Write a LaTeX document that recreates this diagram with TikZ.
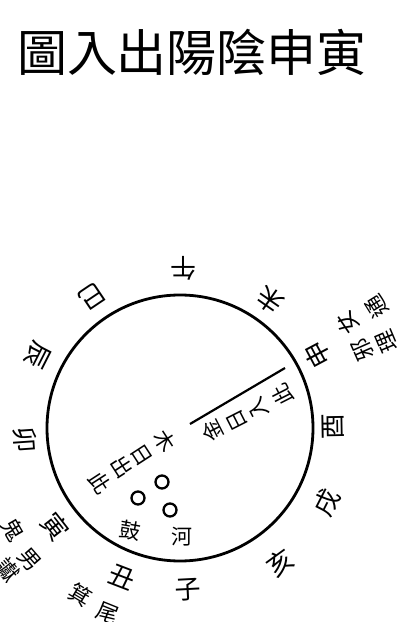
\documentclass[tikz,border=0pt]{standalone}
\usepackage{fontspec}
\newfontfamily\cjk{Noto Sans CJK TC}
\begin{document}
\begin{tikzpicture}[x=1pt,y=1pt,
  ttl/.style={font=\cjk\fontsize{50}{50}\selectfont, inner sep=0pt},
  br/.style={font=\cjk\fontsize{26}{26}\selectfont, inner sep=0pt},
  sm/.style={font=\cjk\fontsize{22}{22}\selectfont, inner sep=0pt},
  inr/.style={font=\cjk\fontsize{21}{21}\selectfont, inner sep=0pt},
  star/.style={draw, circle, line width=2.3pt, minimum size=13pt, inner sep=0pt}]
\useasboundingbox (0,0) rectangle (403,622);
\fill[white] (0,0) rectangle (403,622);
% title
\node[ttl] (title) at (192,570) {圖入出陽陰申寅};
% ring
\node[draw, circle, line width=2.8pt, minimum size=266pt, inner sep=0pt] (ring) at (180,194) {};
% branches
\node[br, rotate=3]   (zi)   at (188,32)  {子};
\node[br, rotate=-21] (chou) at (122,45)  {丑};
\node[br, rotate=-52] (yin)  at (55,95)   {寅};
\node[br, rotate=-86] (mao)  at (25,182)  {卯};
\node[br, rotate=243] (chen) at (38,267)  {辰};
\node[br, rotate=214] (si)   at (92,325)  {巳};
\node[br, rotate=180] (wu)   at (183,354) {午};
\node[br, rotate=145] (wei)  at (270,322) {未};
\node[br, rotate=118] (shen) at (318,267) {申};
\node[br, rotate=91]  (you)  at (333,195) {酉};
\node[br, rotate=63]  (xu)   at (327,119) {戌};
\node[br, rotate=36]  (hai)  at (280,59)  {亥};
% outer notes
\node[sm, rotate=124] (o1) at (347,299) {女};
\node[sm, rotate=122] (o2) at (377,315) {通};
\node[sm, rotate=114] (o3) at (363,272) {邪};
\node[sm, rotate=113] (o4) at (387,280) {理};
\node[sm, rotate=-49] (o5) at (30,62)   {男};
\node[sm, rotate=-51] (o6) at (8,52)    {讞};
\node[sm, rotate=-60] (o7) at (13,92)   {鬼};
\node[sm, rotate=-22] (o8) at (108,9)   {尾};
\node[sm, rotate=-31] (o9) at (80,27)   {箕};
% inner line and texts
\coordinate (la) at (190,198);
\coordinate (lb) at (285,254);
\draw[line width=2.2pt] (la) -- (lb);
\node[inr, rotate=117] (a1) at (212,191) {金};
\node[inr, rotate=117] (a2) at (237,202) {日};
\node[inr, rotate=117] (a3) at (258,214) {入};
\node[inr, rotate=117] (a4) at (282,227) {此};
\node[inr, rotate=-57] (b1) at (165,181) {木};
\node[inr, rotate=-57] (b2) at (141,167) {日};
\node[inr, rotate=-57] (b3) at (122,155) {出};
\node[inr, rotate=-57] (b4) at (100,139) {此};
% stars
\node[star] (s1) at (162,140) {};
\node[star] (s2) at (138,124) {};
\node[star] (s3) at (170,112) {};
\node[inr, rotate=-10] (gu) at (130,92) {鼓};
\node[inr] (he) at (182,85) {河};
\end{tikzpicture}
\end{document}
